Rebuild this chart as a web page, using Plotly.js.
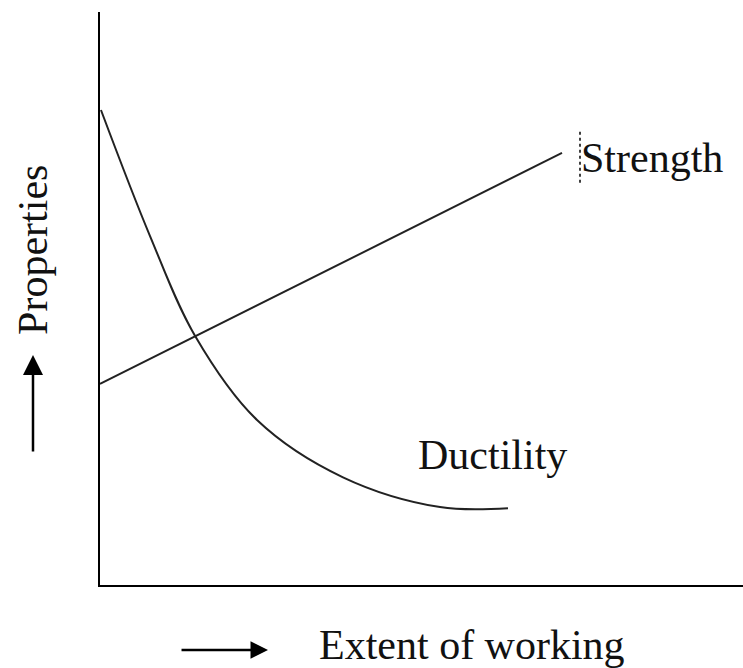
<!DOCTYPE html>
<html>
<head>
<meta charset="utf-8">
<script src="https://cdn.plot.ly/plotly-3.0.1.min.js"></script>
<style>
html,body{margin:0;padding:0;background:#fff;}
#chart{width:743px;height:668px;}
</style>
</head>
<body>
<div id="chart"></div>
<script>
// Extent of working (arbitrary units) vs properties (arbitrary units)
var strengthX = [0, 71.85];
var strengthY = [35.1, 75.4];

var ductilityX = [0.15, 7.78, 14.77, 24.42, 37.79, 52.88, 63.45];
var ductilityY = [82.9, 60.9, 43.5, 28.8, 18.8, 13.6, 13.4];

var seriesLabels = ["Strength", "Ductility"];
var xLabel = "Extent of working";
var yLabel = "Properties";

var FONT = {family: "Liberation Serif, Times New Roman, serif", size: 42, color: "#111"};

var traces = [
  {x: strengthX, y: strengthY, mode: "lines", type: "scatter",
   line: {color: "#222", width: 2}, hoverinfo: "skip", name: seriesLabels[0]},
  {x: ductilityX, y: ductilityY, mode: "lines", type: "scatter",
   line: {color: "#222", width: 2, shape: "spline", smoothing: 1}, hoverinfo: "skip", name: seriesLabels[1]}
];

var layout = {
  width: 743, height: 668,
  margin: {l: 100, r: 0, t: 12, b: 83, pad: 0},
  paper_bgcolor: "#fff", plot_bgcolor: "#fff",
  showlegend: false,
  xaxis: {range: [0, 100], showline: true, linecolor: "#000", linewidth: 2,
          showgrid: false, zeroline: false, showticklabels: false, ticks: "", fixedrange: true},
  yaxis: {range: [0, 100], showline: true, linecolor: "#000", linewidth: 2,
          showgrid: false, zeroline: false, showticklabels: false, ticks: "", fixedrange: true},
  annotations: [
    {text: seriesLabels[0], xref: "x", yref: "y", x: 74.5, y: 74.5,
     xanchor: "left", yanchor: "middle", showarrow: false, font: FONT},
    {text: seriesLabels[1], xref: "x", yref: "y", x: 49.2, y: 22.7,
     xanchor: "left", yanchor: "middle", showarrow: false, font: FONT},
    {text: xLabel, xref: "paper", yref: "paper", x: 0.338, y: -0.104,
     xanchor: "left", yanchor: "middle", showarrow: false, font: FONT},
    {text: yLabel, xref: "paper", yref: "paper", x: -0.104, y: 0.585,
     xanchor: "center", yanchor: "middle", textangle: -90, showarrow: false, font: FONT},
    {text: "", xref: "paper", yref: "paper", x: 0.2613, y: -0.1134,
     ax: -88, ay: 0, showarrow: true, arrowhead: 2, arrowsize: 1.4, arrowwidth: 2.5, arrowcolor: "#000"},
    {text: "", xref: "paper", yref: "paper", x: -0.1042, y: 0.4014,
     ax: 0, ay: 98, showarrow: true, arrowhead: 2, arrowsize: 1.6, arrowwidth: 2.5, arrowcolor: "#000"}
  ],
  shapes: [
    {type: "line", xref: "x", yref: "y", x0: 74.65, x1: 74.65, y0: 70.2, y1: 79.1,
     line: {color: "#000", width: 1.5, dash: "dot"}}
  ]
};

Plotly.newPlot("chart", traces, layout, {displayModeBar: false, staticPlot: true});
</script>
</body>
</html>
